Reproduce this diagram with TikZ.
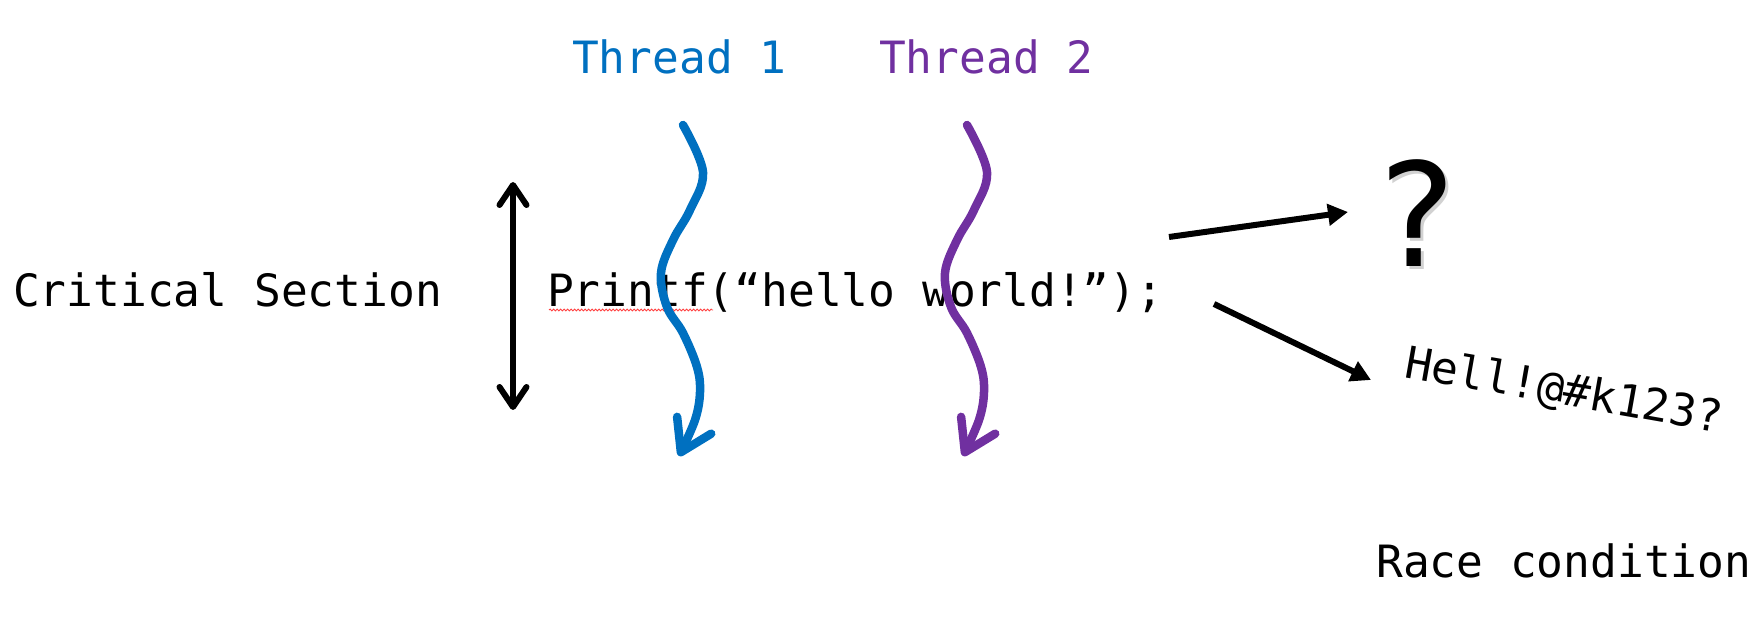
\documentclass[tikz,border=0pt]{standalone}
\usepackage{fontspec}
\setmainfont{DejaVu Sans}
\setmonofont{DejaVu Sans Mono}
\usetikzlibrary{arrows.meta,decorations.pathmorphing}
\definecolor{tblue}{HTML}{0070C0}
\definecolor{tpurple}{HTML}{7030A0}
\begin{document}
\begin{tikzpicture}[x=1pt,y=-1pt,
  lbl/.style={font=\fontsize{44.5}{50}\selectfont\ttfamily, anchor=base west, inner sep=0pt},
  thr/.style={line width=8.5pt, line cap=round, line join=round,
     -{Straight Barb[length=30pt,width=38pt,round]}},
  blk/.style={line width=6pt, -{Triangle[length=20pt,width=21pt]}},
  dbl/.style={line width=6pt, {Straight Barb[length=20pt,width=27pt,round]}-{Straight Barb[length=20pt,width=27pt,round]}}
]
\useasboundingbox (0,0) rectangle (1759,617);

% labels
\node[lbl, text=tblue] (th1) at (572,74) {Thread 1};
\node[lbl, text=tpurple] (th2) at (879,74) {Thread 2};
\node[lbl] (crit) at (13,307) {Critical Section};
\node[lbl] (code) at (547,307) {Printf(“hello world!”);};
\node[lbl] (race) at (1376,577) {Race condition};
\node[lbl, rotate=-10] (garb) at (1403,377) {Hell!@\#k123?};

% question mark with soft shadow
\node[font=\fontsize{144}{150}\selectfont, anchor=base, inner sep=0pt, text=black!30, opacity=0.6] (qs) at (1421,270) {?};
\node[font=\fontsize{144}{150}\selectfont, anchor=base, inner sep=0pt] (q) at (1418,267) {?};

% spell-check squiggle
\coordinate (sq1) at (549,310);
\coordinate (sq2) at (713,310);
\draw[red!75, line width=0.8pt, decorate, decoration={snake, amplitude=1pt, segment length=3.5pt}] (sq1) -- (sq2);

% critical section extent
\coordinate (cs1) at (513,182);
\coordinate (cs2) at (513,410);
\draw[dbl] (cs1) -- (cs2);

% threads
\draw[thr, tblue] plot[smooth, tension=0.6] coordinates
  {(683,125) (703,172) (690,210) (673,240) (661,273) (667,307) (683,333) (697,367) (700,392) (695,420) (679,456)};
\draw[thr, tpurple] plot[smooth, tension=0.6] coordinates
  {(967,125) (987,172) (974,210) (957,240) (945,273) (951,307) (967,333) (981,367) (984,392) (979,420) (963,456)};

% outcomes
\coordinate (a1s) at (1169,237);
\coordinate (a1e) at (1348,212);
\coordinate (a2s) at (1214,304);
\coordinate (a2e) at (1371,380);
\draw[blk] (a1s) -- (a1e);
\draw[blk] (a2s) -- (a2e);
\end{tikzpicture}
\end{document}
